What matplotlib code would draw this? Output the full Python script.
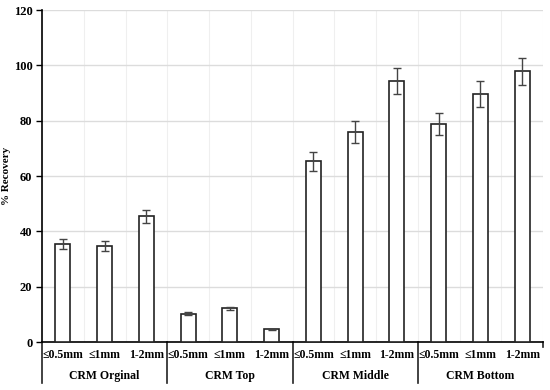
import matplotlib
matplotlib.use("Agg")
import numpy as np
from matplotlib import pyplot as plt
from matplotlib import transforms

plt.rcParams['font.family'] = ['Liberation Serif', 'DejaVu Serif']
plt.rcParams['font.weight'] = 'bold'

groups = ['CRM Orginal', 'CRM Top', 'CRM Middle', 'CRM Bottom']
sizes = ['≤0.5mm', '≤1mm', '1-2mm']
recovery = [35.5, 34.8, 45.4, 10.3, 12.2, 4.6, 65.3, 75.8, 94.4, 78.9, 89.5, 97.9]
errors = [1.8, 1.8, 2.3, 0.6, 0.6, 0.2, 3.5, 4.0, 4.7, 4.0, 4.7, 4.9]

fig = plt.figure(figsize=(5.5, 3.9), dpi=100)
ax = fig.add_axes([0.0764, 0.123, 0.911, 0.851])

x = np.arange(len(recovery))
ax.bar(x, recovery, width=0.36, color='white', edgecolor='#222222', linewidth=1.2, zorder=3)
ax.errorbar(x, recovery, yerr=errors, fmt='none', ecolor='#444444', elinewidth=1,
            capsize=3, capthick=1, zorder=4)

ax.set_xlim(-0.5, len(recovery) - 0.5)
ax.set_ylim(0, 120)
ax.set_yticks(np.arange(0, 121, 20))
ax.tick_params(axis='y', labelsize=9, length=4, width=1, direction='out', pad=3)
ax.set_xticks(x)
ax.set_xticklabels([])
ax.tick_params(axis='x', length=0)
ax.set_xticks(np.arange(-0.5, len(recovery), 0.5), minor=True)
ax.tick_params(axis='x', which='minor', length=0)

ax.grid(axis='y', which='major', color='#dcdcdc', linewidth=1, zorder=0)
ax.grid(axis='x', which='minor', color='#efefef', linewidth=0.8, zorder=0)

for s in ['top', 'right']:
    ax.spines[s].set_visible(False)
ax.spines['left'].set_linewidth(1.2)
ax.spines['bottom'].set_linewidth(1.2)

ax.set_ylabel('% Recovery', fontsize=8, fontweight='bold')
ax.yaxis.set_label_coords(-0.062, 0.5)

trans = transforms.blended_transform_factory(ax.transData, ax.transAxes)
for i, lab in enumerate(sizes * len(groups)):
    ax.text(i, -0.04, lab, transform=trans, ha='center', va='center', fontsize=8.5, fontweight='bold')
for g, name in enumerate(groups):
    ax.text(g * 3 + 1, -0.103, name, transform=trans, ha='center', va='center', fontsize=8.5, fontweight='bold')

for b in [-0.5, 2.5, 5.5, 8.5]:
    ax.plot([b, b], [0, -0.124], transform=trans, color='#222222', linewidth=1.2, clip_on=False)
ax.plot([11.5, 11.5], [0, -0.015], transform=trans, color='#222222', linewidth=1.2, clip_on=False)

fig.savefig('out.png', dpi=100)
